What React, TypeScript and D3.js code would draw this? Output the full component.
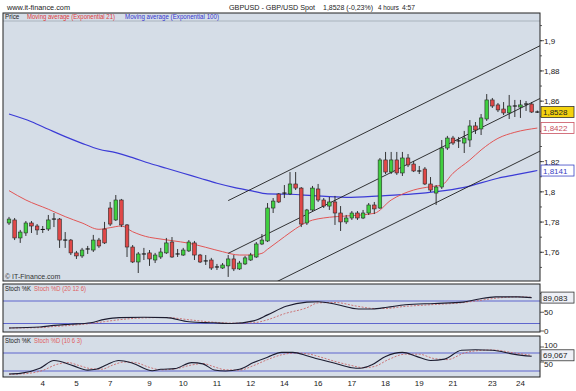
import React from 'react';
import * as d3 from 'd3';

// ---- data ----
const dayLabels = ['4', '5', '7', '9', '10', '11', '12', '14', '16', '17', '18', '19', '21', '23', '24'];
const dayLabelIdx = [6, 12, 18, 25, 31, 37, 43, 49, 55, 61, 67, 73, 79, 86, 91];

const opens = [1.7794,1.7814,1.7695,1.7728,1.7794,1.7774,1.7751,1.7754,1.7820,1.7820,
1.7681,1.7681,1.7596,1.7576,1.7622,1.7615,1.7681,1.7754,1.7893,1.7814,
1.7946,1.7781,1.7635,1.7536,1.7589,1.7596,1.7549,1.7569,1.7596,1.7668,
1.7589,1.7582,1.7609,1.7662,1.7582,1.7543,1.7549,1.7503,1.7496,1.7510,
1.7556,1.7490,1.7523,1.7549,1.7569,1.7655,1.7675,1.7893,1.7986,1.7992,
1.7986,1.8052,1.8025,1.7794,1.7880,1.8019,1.7946,1.7906,1.7933,1.7860,
1.7801,1.7827,1.7860,1.7827,1.7860,1.7913,1.7893,1.8211,1.8131,1.8211,
1.8125,1.8224,1.8184,1.8138,1.8151,1.8052,1.7992,1.8032,1.8290,1.8356,
1.8337,1.8323,1.8343,1.8436,1.8416,1.8482,1.8608,1.8575,1.8548,1.8522,
1.8568,1.8561,1.8581,1.8581,1.8528];
const highs = [1.7834,1.7827,1.7748,1.7807,1.7807,1.7787,1.7774,1.7847,1.7860,1.7827,
1.7734,1.7688,1.7609,1.7629,1.7642,1.7715,1.7695,1.7801,1.7933,1.7979,
1.7953,1.7787,1.7648,1.7602,1.7629,1.7615,1.7596,1.7629,1.7695,1.7701,
1.7622,1.7629,1.7681,1.7675,1.7589,1.7582,1.7563,1.7523,1.7529,1.7582,
1.7582,1.7543,1.7576,1.7596,1.7668,1.7721,1.7926,1.7959,1.7992,1.8045,
1.8131,1.8131,1.8032,1.7887,1.8039,1.8052,1.7959,1.7966,1.7973,1.7906,
1.7847,1.7873,1.7873,1.7880,1.7926,1.7933,1.8224,1.8264,1.8264,1.8264,
1.8264,1.8250,1.8204,1.8171,1.8164,1.8098,1.8045,1.8343,1.8370,1.8370,
1.8363,1.8403,1.8475,1.8462,1.8515,1.8647,1.8621,1.8588,1.8594,1.8641,
1.8608,1.8608,1.8601,1.8594,1.8538];
const lows = [1.7781,1.7681,1.7662,1.7708,1.7728,1.7715,1.7728,1.7741,1.7767,1.7629,
1.7629,1.7582,1.7556,1.7563,1.7589,1.7602,1.7629,1.7655,1.7774,1.7807,
1.7767,1.7569,1.7529,1.7463,1.7549,1.7510,1.7529,1.7556,1.7589,1.7563,
1.7569,1.7576,1.7602,1.7549,1.7529,1.7516,1.7483,1.7483,1.7490,1.7437,
1.7476,1.7483,1.7516,1.7543,1.7563,1.7648,1.7668,1.7860,1.7926,1.7959,
1.7979,1.8012,1.7767,1.7781,1.7873,1.7933,1.7893,1.7880,1.7781,1.7741,
1.7787,1.7814,1.7814,1.7820,1.7847,1.7853,1.7887,1.8118,1.8118,1.8112,
1.8105,1.8164,1.8131,1.8118,1.8045,1.7999,1.7913,1.8019,1.8277,1.8310,
1.8290,1.8257,1.8297,1.8383,1.8376,1.8469,1.8555,1.8528,1.8508,1.8482,
1.8495,1.8489,1.8535,1.8522,1.8522];
const closes = [1.7820,1.7695,1.7734,1.7794,1.7774,1.7748,1.7751,1.7814,1.7820,1.7681,
1.7681,1.7596,1.7576,1.7615,1.7622,1.7681,1.7642,1.7662,1.7787,1.7946,
1.7781,1.7635,1.7536,1.7589,1.7589,1.7556,1.7582,1.7602,1.7662,1.7569,
1.7589,1.7615,1.7668,1.7582,1.7536,1.7543,1.7496,1.7503,1.7516,1.7556,
1.7490,1.7529,1.7563,1.7582,1.7655,1.7681,1.7893,1.7939,1.7933,1.7992,
1.8052,1.8025,1.7787,1.7880,1.8025,1.7946,1.7906,1.7933,1.7860,1.7801,
1.7827,1.7860,1.7827,1.7860,1.7913,1.7887,1.8211,1.8131,1.8211,1.8125,
1.8224,1.8178,1.8138,1.8138,1.8052,1.8012,1.8032,1.8290,1.8356,1.8323,
1.8337,1.8356,1.8436,1.8409,1.8489,1.8608,1.8568,1.8542,1.8522,1.8568,
1.8568,1.8575,1.8581,1.8528,1.8528];

const ema21Idx = [0,3,7,10,13,16,18,20,22,25,26,29,32,35,38,41,43,45,46,48,50,52,53,57,60,65,68,72,75,77,79,82,84,87,90,94];
const ema21Val = [1.8008,1.7946,1.7885,1.7836,1.7794,1.7752,1.7763,1.7774,1.7736,1.7699,1.7693,1.7677,1.7660,1.7633,1.7604,1.7582,1.7582,1.7593,1.7620,1.7675,1.7730,1.7780,1.7800,1.7832,1.7840,1.7858,1.7946,1.8012,1.8034,1.8045,1.8123,1.8211,1.8277,1.8354,1.8394,1.8422];

const ema100Idx = [0,4,7,10,13,16,19,22,25,28,31,34,37,40,43,46,50,54,60,66,72,76,81,87,90,94];
const ema100Val = [1.8515,1.8464,1.8414,1.8365,1.8321,1.8282,1.8259,1.8226,1.8189,1.8156,1.8123,1.8090,1.8057,1.8030,1.8008,1.7986,1.7984,1.7975,1.7964,1.7973,1.7986,1.8001,1.8030,1.8090,1.8112,1.8141];

const channelIdx = [39, 94.5];
const channelUpper = [1.7942, 1.8967];
const channelMiddle = [1.7593, 1.8618];
const channelLower = [1.7246, 1.8270];

const s1KIdx = [0,5.5,8,11,14.5,17,19.6,24,28,32,36.4,39.6,43.5,46,49.3,53,55,58.3,62.2,64.7,67.3,70.5,75.7,80.8,83.4,86.6,90.5,93];
const s1K = [8,10.8,15,18,22,31,35.7,36.6,35.7,24.6,21.8,20,27,43,66,77,78,70.8,58.8,58.8,63.4,70,73.5,77,84.6,91,91,89.1];
const s1DIdx = [0,5.5,8,11,14.5,17,19.6,24,28,32,36,40,43.5,46,49,53,55,58,62,65,67,70,75,81,83,87,90.5,93];
const s1D = [8,9,12,15,20,25,30,35,36,30,24,21,22,30,46,62,75,76,66,60,60,65,70,76,80,88,91,90];

const s2KIdx = [0,2,5.5,8,11.5,14,15.5,17.5,19.5,22,25.5,27,29.5,32.5,34.5,36.5,38.5,41,43.5,46,48.5,50.5,53,55,58,61,62.5,64.5,67,70,72.5,75,77.5,80.5,83,86,90,93];
const s2K = [10,12,29,55,37,23,25.7,42,55,46,21,25.7,28,48,43.8,23.4,20,25.7,48,66,82,82,71,60,46,31,29,40,68.7,82,68.7,55,59.6,89,91,89,75.5,69.1];
const s2DIdx = [0,2,6,8.5,10.5,12.5,14.5,16.5,18.5,20.5,22.5,25,27,29.5,32.5,34.5,36.5,38.5,41,43.5,46,48.5,51,53.5,55.5,58,61,63,65,67.5,70.5,73,75.5,78,81,83.5,86,90,93];
const s2D = [9,10,22,42,48,38,28,26,40,50,48,32,24,27,40,45,34,24,23,38,58,74,80,76,66,52,38,31,35,58,76,76,62,58,80,88,90,80,72];

const lastPrice = 1.8528;
const lastEma21 = 1.8422;
const lastEma100 = 1.8141;
const lastS1 = 89.083;
const lastS2 = 69.067;

// ---- layout ----
const FONT = 'Liberation Sans, Arial, Helvetica, sans-serif';
const PL = 3, PR = 540;
const MT = 13, MH = 21, MB = 281;
const S1T = 284, S1B = 332;
const S2T = 336, S2B = 377;
const PANEL = '#d5dde7';

const fmt = (v: number, d: number) => String(+v.toFixed(d)).replace('.', ',');

export default function App() {
  const x = d3.scaleLinear().domain([0, 94]).range([9, 537.3]);
  const y = d3.scaleLinear().domain([1.76, 1.9]).range([252.3, 40.7]);
  const ys1 = d3.scaleLinear().domain([0, 100]).range([331, 293.5]);
  const ys2 = d3.scaleLinear().domain([0, 100]).range([377, 347]);

  const mk = (ys: d3.ScaleLinear<number, number>) =>
    d3.line<[number, number]>().x(d => x(d[0])).y(d => ys(d[1])).curve(d3.curveMonotoneX);
  const lp = mk(y);
  const l1 = mk(ys1);
  const l2 = mk(ys2);
  const zip = (a: number[], b: number[]) => a.map((v, i) => [v, b[i]] as [number, number]);

  // labels hidden by the value boxes are not drawn (as in the reference)
  const majors = y.ticks(7);
  const minors = d3.range(175, 192, 1).map(v => v / 100);
  const bw = 3.6;

  const box = (yy: number, label: string, bg: string, border: string, color: string) => (
    <g>
      <rect x={541} y={yy - 5.5} width={33} height={11} fill={bg} stroke={border} strokeWidth={0.8} />
      <text x={543} y={yy + 3} fontSize={8} fill={color}>{label}</text>
    </g>
  );

  return (
    <svg width={576} height={391} style={{ position: 'absolute', left: 0, top: 0, background: '#fff' }} fontFamily={FONT}>
      <defs>
        <clipPath id="mainclip"><rect x={PL} y={MH} width={PR - PL} height={MB - MH} /></clipPath>
        <clipPath id="s1clip"><rect x={PL} y={S1T} width={PR - PL} height={S1B - S1T} /></clipPath>
        <clipPath id="s2clip"><rect x={PL} y={S2T} width={PR - PL} height={S2B - S2T} /></clipPath>
      </defs>

      {/* header */}
      <text x={7} y={10} fontSize={8} fill="#222" textLength={63} lengthAdjust="spacingAndGlyphs">www.it-finance.com</text>
      <text x={229} y={10} fontSize={7.6} fill="#222" textLength={86} lengthAdjust="spacingAndGlyphs">GBPUSD - GBP/USD Spot</text>
      <text x={323} y={10} fontSize={7.6} fill="#222" textLength={50} lengthAdjust="spacingAndGlyphs">1,8528 (-0,23%)</text>
      <text x={378} y={10} fontSize={7.6} fill="#222" textLength={21} lengthAdjust="spacingAndGlyphs">4 hours</text>
      <text x={402} y={10} fontSize={7.6} fill="#222" textLength={13} lengthAdjust="spacingAndGlyphs">4:57</text>

      {/* main panel */}
      <rect x={PL} y={MT} width={PR - PL} height={MB - MT} fill={PANEL} />
      <line x1={PL} x2={PR} y1={MH} y2={MH} stroke="#8d97a3" strokeWidth={0.6} />
      <text x={5} y={19} fontSize={6.3} fill="#222">Price</text>
      <text x={27} y={19} fontSize={6.3} fill="#e03a3a" textLength={88} lengthAdjust="spacingAndGlyphs">Moving average (Exponential 21)</text>
      <text x={125} y={19} fontSize={6.3} fill="#3434d0" textLength={94} lengthAdjust="spacingAndGlyphs">Moving average (Exponential 100)</text>

      <g clipPath="url(#mainclip)">
        <path d={lp(zip(ema100Idx, ema100Val)) || ''} fill="none" stroke="#3b3bd6" strokeWidth={1.2} />
        <path d={lp(zip(ema21Idx, ema21Val)) || ''} fill="none" stroke="#e25656" strokeWidth={1} />
        {[channelUpper, channelMiddle, channelLower].map((c, k) => (
          <line key={k} x1={x(channelIdx[0])} x2={x(channelIdx[1])} y1={y(c[0])} y2={y(c[1])} stroke="#1e1e1e" strokeWidth={0.9} />
        ))}
        {opens.map((o, i) => {
          const c = closes[i];
          const cx = x(i);
          const doji = Math.abs(o - c) < 0.0002;
          const top = y(Math.max(o, c));
          const bot = y(Math.min(o, c));
          return (
            <g key={i}>
              <line x1={cx} x2={cx} y1={y(highs[i])} y2={y(lows[i])} stroke="#222" strokeWidth={0.9} />
              {doji ? (
                <line x1={cx - bw / 2 - 0.3} x2={cx + bw / 2 + 0.3} y1={top} y2={top} stroke="#111" strokeWidth={1.1} />
              ) : (
                <rect x={cx - bw / 2} y={top} width={bw} height={Math.max(1, bot - top)}
                  fill={c > o ? '#3fcf3f' : '#e04848'} stroke="#2a2a2a" strokeWidth={0.6} />
              )}
            </g>
          );
        })}
      </g>
      <text x={5} y={279} fontSize={7} fill="#333">© IT-Finance.com</text>
      <rect x={PL} y={MT} width={PR - PL} height={MB - MT} fill="none" stroke="#222" strokeWidth={1} />

      {/* price axis */}
      {minors.map((v, k) => (
        <line key={'m' + k} x1={PR} x2={PR + 2} y1={y(v)} y2={y(v)} stroke="#333" strokeWidth={0.8} />
      ))}
      {majors.map((v, k) => (
        <g key={'t' + k}>
          <line x1={PR} x2={PR + 4} y1={y(v)} y2={y(v)} stroke="#333" strokeWidth={0.8} />
          {Math.abs(v - 1.84) > 0.001 && (
            <text x={544} y={y(v) + 3} fontSize={8} fill="#222">{fmt(v, 2)}</text>
          )}
        </g>
      ))}
      {box(y(lastEma100), fmt(lastEma100, 4), '#ffffff', '#3a44c4', '#3a44c4')}
      {box(y(lastEma21), fmt(lastEma21, 4), '#ffffff', '#c85060', '#c85060')}
      {box(y(lastPrice), fmt(lastPrice, 4), '#f4d20e', '#333', '#222')}

      {/* stoch panel 1 */}
      <rect x={PL} y={S1T} width={PR - PL} height={S1B - S1T} fill={PANEL} />
      <g clipPath="url(#s1clip)">
        <line x1={PL} x2={PR} y1={ys1(80)} y2={ys1(80)} stroke="#3f48c8" strokeWidth={0.8} />
        <line x1={PL} x2={PR} y1={ys1(20)} y2={ys1(20)} stroke="#3f48c8" strokeWidth={0.8} />
        <path d={l1(zip(s1DIdx, s1D)) || ''} fill="none" stroke="#c85a5a" strokeWidth={0.8} strokeDasharray="2,1.5" />
        <path d={l1(zip(s1KIdx, s1K)) || ''} fill="none" stroke="#1c1c30" strokeWidth={1.1} />
      </g>
      <text x={5} y={291} fontSize={6.3} fill="#222" textLength={26} lengthAdjust="spacingAndGlyphs">Stoch %K</text>
      <text x={34} y={291} fontSize={6.3} fill="#e06060" textLength={52} lengthAdjust="spacingAndGlyphs">Stoch %D (20 12 6)</text>
      <rect x={PL} y={S1T} width={PR - PL} height={S1B - S1T} fill="none" stroke="#222" strokeWidth={1} />
      {[0, 50, 100].map(v => (
        <g key={'s1' + v}>
          <line x1={PR} x2={PR + 4} y1={ys1(v)} y2={ys1(v)} stroke="#333" strokeWidth={0.8} />
          {v !== 100 && <text x={544} y={ys1(v) + 3} fontSize={8} fill="#222">{v}</text>}
        </g>
      ))}
      {box(ys1(lastS1), fmt(lastS1, 3), '#eef0f6', '#333', '#222')}

      {/* stoch panel 2 */}
      <rect x={PL} y={S2T} width={PR - PL} height={S2B - S2T} fill={PANEL} />
      <g clipPath="url(#s2clip)">
        <line x1={PL} x2={PR} y1={ys2(80)} y2={ys2(80)} stroke="#3f48c8" strokeWidth={0.8} />
        <line x1={PL} x2={PR} y1={ys2(20)} y2={ys2(20)} stroke="#3f48c8" strokeWidth={0.8} />
        <path d={l2(zip(s2DIdx, s2D)) || ''} fill="none" stroke="#c85a5a" strokeWidth={0.8} strokeDasharray="2,1.5" />
        <path d={l2(zip(s2KIdx, s2K)) || ''} fill="none" stroke="#1c1c30" strokeWidth={1.1} />
      </g>
      <text x={5} y={343} fontSize={6.3} fill="#222" textLength={26} lengthAdjust="spacingAndGlyphs">Stoch %K</text>
      <text x={34} y={343} fontSize={6.3} fill="#e06060" textLength={48} lengthAdjust="spacingAndGlyphs">Stoch %D (10 6 3)</text>
      <rect x={PL} y={S2T} width={PR - PL} height={S2B - S2T} fill="none" stroke="#222" strokeWidth={1} />
      {[50, 100].map(v => (
        <g key={'s2' + v}>
          <line x1={PR} x2={PR + 4} y1={ys2(v)} y2={ys2(v)} stroke="#333" strokeWidth={0.8} />
        </g>
      ))}
      <text x={544} y={ys2(100) + 1} fontSize={8} fill="#222">100</text>
      <text x={544} y={ys2(50) + 5} fontSize={8} fill="#222">50</text>
      {box(ys2(lastS2) - 1, fmt(lastS2, 3), '#eef0f6', '#333', '#222')}

      {/* time axis */}
      {dayLabels.map((d, k) => (
        <text key={'d' + k} x={x(dayLabelIdx[k])} y={386} fontSize={8} fill="#222" textAnchor="middle">{d}</text>
      ))}
    </svg>
  );
}
